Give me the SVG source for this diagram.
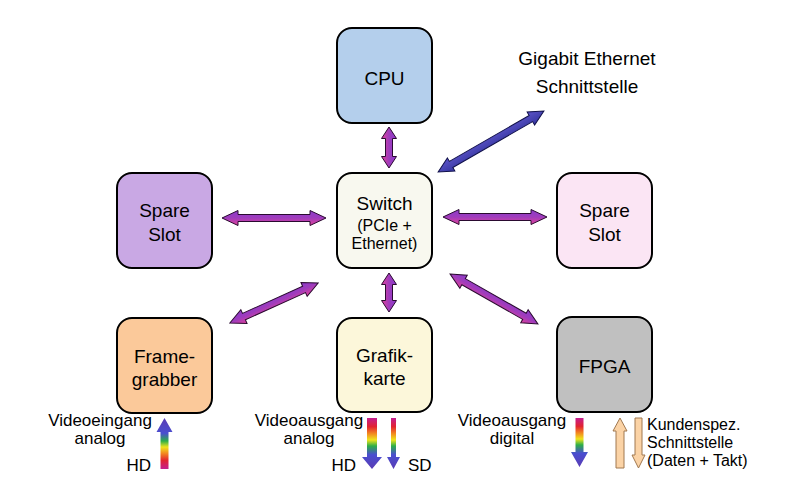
<svg xmlns="http://www.w3.org/2000/svg" width="800" height="491" viewBox="0 0 800 491">
<defs>
<style>
.box{stroke:#000;stroke-width:2}
.t{font-family:"Liberation Sans",Arial,sans-serif;fill:#000;text-anchor:middle}
.bt{font-size:19px}
.st{font-size:16px}
.lb{font-family:"Liberation Sans",Arial,sans-serif;fill:#000;font-size:17px}
.lk{font-family:"Liberation Sans",Arial,sans-serif;fill:#000;font-size:16px}
.arr{fill:url(#gPurple);stroke:#2a0a30;stroke-width:1}
.arrB{fill:url(#gBlue);stroke:#10104a;stroke-width:1}
.pe{fill:#fbd3a6;stroke:#a07850;stroke-width:1}
.rb{stroke:none}
</style>
<linearGradient id="gPurple" x1="0" y1="0" x2="0" y2="1">
<stop offset="0" stop-color="#8a3ccc"/>
<stop offset="0.5" stop-color="#a03cbc"/>
<stop offset="1" stop-color="#e2429a"/>
</linearGradient>
<linearGradient id="gBlue" x1="0" y1="0" x2="0" y2="1">
<stop offset="0" stop-color="#5c54c8"/>
<stop offset="1" stop-color="#3636a0"/>
</linearGradient>
<linearGradient id="gUp" x1="0" y1="0" x2="0" y2="1">
<stop offset="0" stop-color="#5a3cb4"/>
<stop offset="0.3" stop-color="#4a4ed0"/>
<stop offset="0.45" stop-color="#2cae48"/>
<stop offset="0.57" stop-color="#f0e41c"/>
<stop offset="0.7" stop-color="#f28420"/>
<stop offset="0.83" stop-color="#e22430"/>
<stop offset="1" stop-color="#c41e90"/>
</linearGradient>
<linearGradient id="gDown" x1="0" y1="0" x2="0" y2="1">
<stop offset="0" stop-color="#c41e90"/>
<stop offset="0.17" stop-color="#e22430"/>
<stop offset="0.3" stop-color="#f28420"/>
<stop offset="0.43" stop-color="#f0e41c"/>
<stop offset="0.55" stop-color="#2cae48"/>
<stop offset="0.72" stop-color="#4a4ed0"/>
<stop offset="1" stop-color="#5a3cb4"/>
</linearGradient>
</defs>
<rect width="800" height="491" fill="#fff"/>

<g id="cpu">
<rect class="box" x="337" y="28" width="95" height="95" rx="15" fill="#b4cfec"/>
<text class="t bt" x="384.5" y="85">CPU</text>
</g>
<g id="gigabit">
<text class="t bt" x="587" y="65">Gigabit Ethernet</text>
<text class="t bt" x="587" y="93">Schnittstelle</text>
</g>
<g id="spare-left">
<rect class="box" x="117" y="173" width="95" height="95" rx="15" fill="#c9a8e4"/>
<text class="t bt" x="164.5" y="217">Spare</text>
<text class="t bt" x="164.5" y="241">Slot</text>
</g>
<g id="switch">
<rect class="box" x="337" y="173" width="95" height="95" rx="15" fill="#f8f8ef"/>
<text class="t bt" x="384.5" y="210">Switch</text>
<text class="t st" x="384.5" y="231">(PCIe +</text>
<text class="t st" x="384.5" y="249">Ethernet)</text>
</g>
<g id="spare-right">
<rect class="box" x="557" y="173" width="95" height="95" rx="15" fill="#fbe5f4"/>
<text class="t bt" x="604.5" y="217">Spare</text>
<text class="t bt" x="604.5" y="241">Slot</text>
</g>
<g id="framegrabber">
<rect class="box" x="117" y="318" width="95" height="95" rx="15" fill="#fbc99a"/>
<text class="t bt" x="164.5" y="363">Frame-</text>
<text class="t bt" x="164.5" y="386">grabber</text>
</g>
<g id="grafikkarte">
<rect class="box" x="337" y="318" width="95" height="94" rx="15" fill="#fcf7da"/>
<text class="t bt" x="384.5" y="362">Grafik-</text>
<text class="t bt" x="384.5" y="385">karte</text>
</g>
<g id="fpga">
<rect class="box" x="557" y="317" width="95" height="95" rx="15" fill="#c0c0c0"/>
<text class="t bt" x="604.5" y="373">FPGA</text>
</g>

<g id="connectors">
<!-- CPU - Switch -->
<polygon class="arr" transform="translate(389,147.5) rotate(90)" points="-20.5,0 -9,-7.5 -9,-3.5 9,-3.5 9,-7.5 20.5,0 9,7.5 9,3.5 -9,3.5 -9,7.5"/>
<!-- Switch - Grafikkarte -->
<polygon class="arr" transform="translate(389,292.5) rotate(90)" points="-19.5,0 -8,-7.5 -8,-3.5 8,-3.5 8,-7.5 19.5,0 8,7.5 8,3.5 -8,3.5 -8,7.5"/>
<!-- Spare left - Switch -->
<polygon class="arr" transform="translate(274,218)" points="-52,0 -36,-7.5 -36,-3.5 36,-3.5 36,-7.5 52,0 36,7.5 36,3.5 -36,3.5 -36,7.5"/>
<!-- Switch - Spare right -->
<polygon class="arr" transform="translate(495,217)" points="-52,0 -36,-7.5 -36,-3.5 36,-3.5 36,-7.5 52,0 36,7.5 36,3.5 -36,3.5 -36,7.5"/>
<!-- Switch - Gigabit -->
<polygon class="arrB" transform="translate(491,141.5) rotate(-29.9)" points="-61,0 -46,-7.5 -46,-3.5 46,-3.5 46,-7.5 61,0 46,7.5 46,3.5 -46,3.5 -46,7.5"/>
<!-- Switch - Framegrabber -->
<polygon class="arr" transform="translate(274,303) rotate(-24.4)" points="-48.5,0 -33,-7.5 -33,-3.5 33,-3.5 33,-7.5 48.5,0 33,7.5 33,3.5 -33,3.5 -33,7.5"/>
<!-- Switch - FPGA -->
<polygon class="arr" transform="translate(494,299) rotate(29.6)" points="-50.5,0 -35,-7.5 -35,-3.5 35,-3.5 35,-7.5 50.5,0 35,7.5 35,3.5 -35,3.5 -35,7.5"/>

<!-- Video input to Framegrabber -->
<polygon class="rb" fill="url(#gUp)" points="164.5,418 172.5,432 168.5,432 168.5,469 160.5,469 160.5,432 156.5,432"/>
<!-- Grafik HD out -->
<polygon class="rb" fill="url(#gDown)" points="367,418 377,418 377,457 382,457 372,469 362,457 367,457"/>
<!-- Grafik SD out -->
<polygon class="rb" fill="url(#gDown)" points="391,418 396,418 396,457 400,457 393.5,469 387,457 391,457"/>
<!-- FPGA digital out -->
<polygon class="rb" fill="url(#gDown)" points="575.5,418 583.5,418 583.5,452 588,452 579.5,467 571,452 575.5,452"/>
<!-- Custom interface -->
<polygon class="pe" points="620,418 627,431 624,431 624,468 616,468 616,431 613,431"/>
<polygon class="pe" points="635,418 642,418 642,455 645,455 638.5,468 632,455 635,455"/>
</g>

<g id="labels">
<text class="t lb" x="100" y="426">Videoeingang</text>
<text class="t lb" x="100" y="444">analog</text>
<text class="lb" x="151" y="471" text-anchor="end">HD</text>
<text class="t lb" x="309" y="426">Videoausgang</text>
<text class="t lb" x="309" y="444">analog</text>
<text class="lb" x="356" y="471" text-anchor="end">HD</text>
<text class="lb" x="408" y="471">SD</text>
<text class="t lb" x="512" y="426">Videoausgang</text>
<text class="t lb" x="512" y="444">digital</text>
<text class="lk" x="647" y="430">Kundenspez.</text>
<text class="lk" x="647" y="448">Schnittstelle</text>
<text class="lk" x="647" y="466">(Daten + Takt)</text>
</g>
</svg>
